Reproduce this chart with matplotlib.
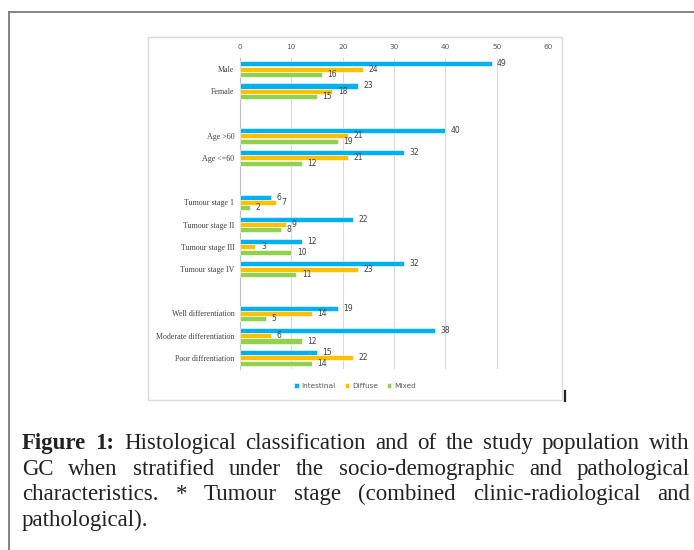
import numpy as np
import matplotlib
matplotlib.use('Agg')
import matplotlib.pyplot as plt
from matplotlib.lines import Line2D
from matplotlib.patches import Rectangle

W, H = 694, 550

# categories, with '' for the empty spacer rows between groups
categories = ['Male', 'Female', '',
              'Age >60', 'Age <=60', '',
              'Tumour stage 1', 'Tumour stage II', 'Tumour stage III', 'Tumour stage IV', '',
              'Well differentiation', 'Moderate differentiation', 'Poor diffrentiation']
intestinal = [49, 23, None, 40, 32, None, 6, 22, 12, 32, None, 19, 38, 15]
diffuse = [24, 18, None, 21, 21, None, 7, 9, 3, 23, None, 14, 6, 22]
mixed = [16, 15, None, 19, 12, None, 2, 8, 10, 11, None, 5, 12, 14]
series_names = ['Intestinal', 'Diffuse', 'Mixed']
colors = ['#00B0F0', '#FFC000', '#92D050']
xticks = [0, 10, 20, 30, 40, 50, 60]

caption_lines = [
    'Figure 1: Histological classification and of the study population with',
    'GC when stratified under the socio-demographic and pathological',
    'characteristics. * Tumour stage (combined clinic-radiological and',
    'pathological).',
]

fig = plt.figure(figsize=(W / 100, H / 100), dpi=100)

def fx(px):
    return px / W

def fy(py):
    return 1 - py / H

# outer frame (left and top rule)
fig.add_artist(Line2D([fx(9), fx(9)], [fy(12), fy(550)], color='#7a7a7a', lw=1.3))
fig.add_artist(Line2D([fx(9), fx(694)], [fy(12), fy(12)], color='#7a7a7a', lw=1.3))

# chart area box
fig.add_artist(Rectangle((fx(148), fy(400)), fx(562) - fx(148), fy(37) - fy(400),
                         fill=False, edgecolor='#d9d9d9', lw=1.0))
fig.add_artist(Line2D([fx(564.5), fx(564.5)], [fy(391), fy(401)], color='#222222', lw=1.6))

ax = fig.add_axes([fx(240), fy(369), fx(548) - fx(240), fy(58) - fy(369)])

y = np.arange(len(categories))
bh = 0.24
for k, (vals, name, col) in enumerate(zip([intestinal, diffuse, mixed], series_names, colors)):
    ys = [yy + (k - 1) * bh for yy, v in zip(y, vals) if v is not None]
    vs = [v for v in vals if v is not None]
    ax.barh(ys, vs, height=bh * 0.95, color=col, edgecolor='white', lw=0.4,
            label=name, zorder=3)
    for yy, v in zip(ys, vs):
        ax.annotate(str(v), (v, yy), xytext=(4, 0), textcoords='offset points',
                    va='center', ha='left', fontsize=5.5, color='#404040',
                    family='DejaVu Sans')

ax.set_xlim(0, 60)
ax.set_ylim(len(categories) - 0.5, -0.5)
ax.set_xticks(xticks)
ax.xaxis.tick_top()
ax.tick_params(axis='x', length=0, labelsize=5.3, colors='#595959', pad=6)
ax.set_yticks(y)
ax.set_yticklabels(categories, family='Liberation Serif', fontsize=5.8, color='#404040')
ax.tick_params(axis='y', length=0, pad=4)
ax.grid(axis='x', color='#d9d9d9', lw=0.8, zorder=0)
for s in ['top', 'right', 'bottom']:
    ax.spines[s].set_visible(False)
ax.spines['left'].set_color('#bfbfbf')
ax.spines['left'].set_linewidth(0.8)

fig.legend(loc='center', bbox_to_anchor=(fx(355), fy(386)), ncol=3, frameon=False,
           fontsize=5.3, handlelength=0.6, handleheight=0.6, columnspacing=1.2,
           handletextpad=0.4, labelcolor='#595959')

# justified caption
renderer = fig.canvas.get_renderer()
fs = 16.5
left, right = 22, 690
baselines = [449, 475, 500, 526]

def width_of(word, bold):
    t = fig.text(0, 0, word, fontsize=fs, family='Liberation Serif',
                 weight='bold' if bold else 'normal')
    w = t.get_window_extent(renderer).width
    t.remove()
    return w

for li, line in enumerate(caption_lines):
    words = line.split(' ')
    bold = [li == 0 and i < 2 for i in range(len(words))]
    widths = [width_of(w, b) for w, b in zip(words, bold)]
    if li < len(caption_lines) - 1:
        gap = (right - left - sum(widths)) / (len(words) - 1)
    else:
        gap = width_of('a b', False) - width_of('ab', False)
    x = left
    for w, b, wd in zip(words, bold, widths):
        fig.text(fx(x), fy(baselines[li]), w, fontsize=fs, family='Liberation Serif',
                 weight='bold' if b else 'normal', color='#222222', va='baseline')
        x += wd + gap

fig.savefig('out.png', dpi=100)
